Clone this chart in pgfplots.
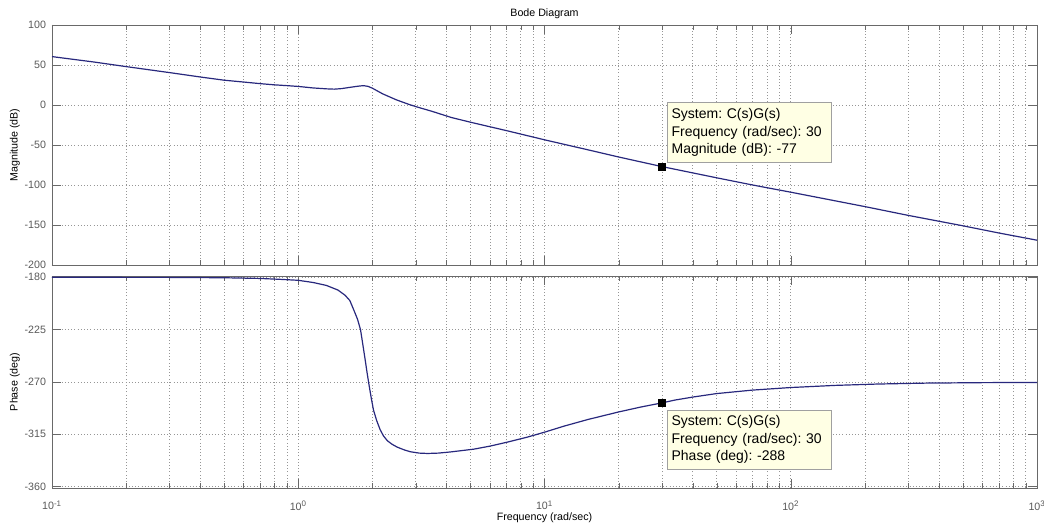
\documentclass[border=0pt]{standalone}
\usepackage{fontspec}
\setmainfont{Liberation Sans}
\usepackage{pgfplots}
\pgfplotsset{compat=1.18}
\definecolor{curve}{RGB}{40,40,125}
\definecolor{framec}{RGB}{105,105,105}
\definecolor{tipfill}{RGB}{255,255,228}
\definecolor{gridc}{RGB}{150,150,150}
\definecolor{tipedge}{RGB}{160,160,160}
\begin{document}
\begin{tikzpicture}
\path[use as bounding box] (-39pt,18.75pt) rectangle (744pt,-376.5pt);
\begin{axis}[scale only axis, width=738.75pt, height=180pt,
  at={(0pt,0pt)}, anchor=north west,
  xmode=log, xmin=0.1, xmax=1000,
  xtick={0.1,1,10,100,1000},
  grid=both,
  major grid style={dotted, gridc, line width=0.5pt},
  minor grid style={dotted, gridc, line width=0.5pt},
  axis line style={framec},
  tick style={framec},
  major tick length=7pt, minor tick length=4pt,
  tick align=inside,
  tick label style={font=\fontsize{8}{10}\selectfont, text=black!65},
  label style={font=\fontsize{8}{10}\selectfont},
  yticklabel style={xshift=-1pt},
  ymin=-200, ymax=100, ytick={-200,-150,-100,-50,0,50,100},
  yticklabels={-200,-150,-100,-50,0,50,100},
  xticklabels={,,,,},
  title={Bode Diagram},
  title style={font=\fontsize{8}{10}\selectfont, at={(axis description cs:0.5,1)}, anchor=center, yshift=2.5pt},
  ylabel={Magnitude (dB)},
  ylabel style={at={(axis description cs:-0.0376,0.5)}, anchor=center}]
\addplot[curve, line width=0.9pt] coordinates {
(0.1,60.5) (0.15,53.5) (0.2,48) (0.3,40.5) (0.4,35) (0.5,31) (0.6,28.7) (0.7,26.7)
(0.8,25.2) (0.9,24.2) (1.0,23.2) (1.15,21.3) (1.3,20.2) (1.4,19.8) (1.5,20.5)
(1.6,21.8) (1.75,23.5) (1.84,24.2) (1.92,23.3) (2.0,21) (2.2,14) (2.5,6.5)
(2.8,1) (3.0,-2) (3.5,-8) (4.17,-15.5) (5,-21.5) (7,-32) (10,-43.5) (15,-56)
(20,-65) (30,-77) (50,-91) (70,-100) (100,-109) (200,-127) (300,-138)
(500,-151) (700,-160) (1000,-169)
};
\addplot[only marks, mark=square*, mark size=2.6pt, black] coordinates {(30,-77)};
\node[draw=tipedge, fill=tipfill, anchor=south west, align=left, text width=116pt,
  inner xsep=3.5pt, inner ysep=4.5pt, font=\fontsize{10.5}{13}\selectfont\frenchspacing,
  xshift=3.5pt, yshift=3pt] at (axis cs:30,-77)
  {System: C(s)G(s)\\Frequency (rad/sec): 30\\Magnitude (dB): -77};
\end{axis}
\begin{axis}[scale only axis, width=738.75pt, height=159pt,
  at={(0pt,-188.25pt)}, anchor=north west,
  xmode=log, xmin=0.1, xmax=1000,
  xtick={0.1,1,10,100,1000},
  grid=both,
  major grid style={dotted, gridc, line width=0.5pt},
  minor grid style={dotted, gridc, line width=0.5pt},
  axis line style={framec},
  tick style={framec},
  major tick length=7pt, minor tick length=4pt,
  tick align=inside,
  tick label style={font=\fontsize{8}{10}\selectfont, text=black!65},
  label style={font=\fontsize{8}{10}\selectfont},
  yticklabel style={xshift=-1pt},
  ymin=-361.2, ymax=-178.9, ytick={-360,-315,-270,-225,-180},
  yticklabels={-360,-315,-270,-225,-180},
  xticklabels={10\textsuperscript{-1},10\textsuperscript{0},10\textsuperscript{1},10\textsuperscript{2},10\textsuperscript{3}},
  xticklabel style={yshift=-6pt},
  xlabel={Frequency  (rad/sec)},
  xlabel style={at={(axis description cs:0.5,0)}, anchor=center, yshift=-22.5pt},
  ylabel={Phase (deg)},
  ylabel style={at={(axis description cs:-0.0376,0.5)}, anchor=center}]
\addplot[curve, line width=0.9pt] coordinates {
(0.1,-180) (0.3,-180.1) (0.5,-180.4) (0.7,-181) (0.85,-181.8) (1.0,-182.6)
(1.15,-184.5) (1.3,-187) (1.45,-191) (1.55,-195.5) (1.62,-200) (1.68,-208)
(1.74,-216) (1.79,-225) (1.83,-238) (1.87,-251) (1.9,-261) (1.94,-273)
(1.98,-284) (2.02,-294) (2.08,-303) (2.15,-311) (2.22,-316.5) (2.3,-320.5)
(2.4,-323.5) (2.52,-326) (2.7,-328.5) (2.85,-330) (3.1,-331.2) (3.35,-331.5)
(3.7,-331.2) (4.15,-330.2) (5.16,-327.8) (6,-325.2) (7.05,-321.8) (8.5,-317.5)
(10,-313.2) (12,-308) (15,-302.3) (20,-295.8) (24.7,-291.5) (30,-288)
(34,-285.5) (40,-283) (50,-280) (70,-277) (100,-274.8) (150,-273) (225,-271.8)
(355,-271) (600,-270.6) (1000,-270.4)
};
\addplot[only marks, mark=square*, mark size=2.6pt, black] coordinates {(30,-288)};
\node[draw=tipedge, fill=tipfill, anchor=north west, align=left, text width=116pt,
  inner xsep=3.5pt, inner ysep=4.5pt, font=\fontsize{10.5}{13}\selectfont\frenchspacing,
  xshift=3.5pt, yshift=-5pt] at (axis cs:30,-288)
  {System: C(s)G(s)\\Frequency (rad/sec): 30\\Phase (deg): -288};
\end{axis}
\end{tikzpicture}
\end{document}
